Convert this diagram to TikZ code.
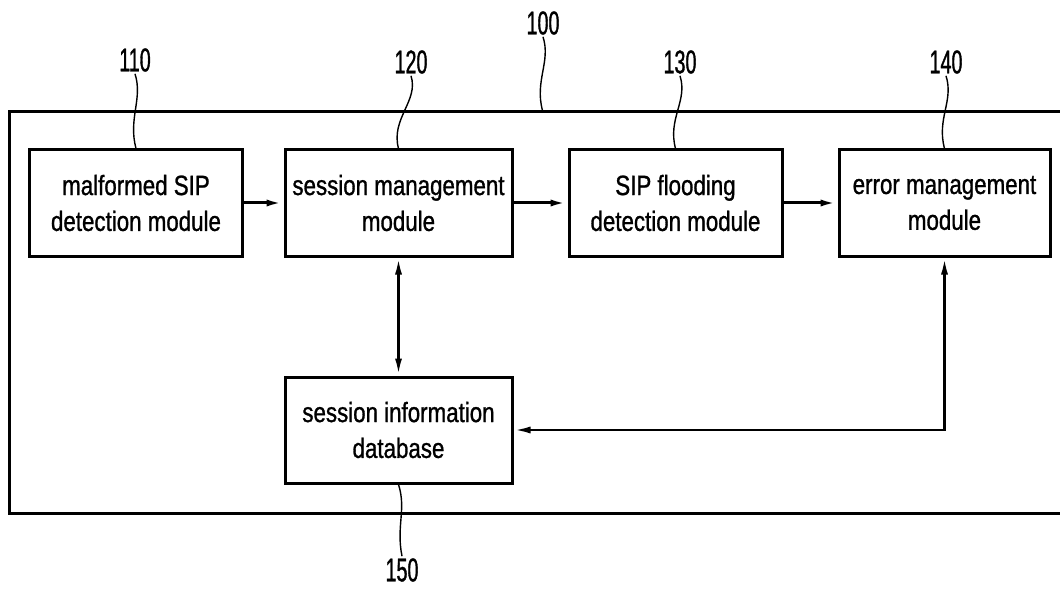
\documentclass[tikz,border=0pt]{standalone}
\usepackage{fontspec}
\setmainfont{Liberation Sans}[FakeStretch=0.8,FakeBold=1]
\newfontfamily\numfont{Liberation Sans}[FakeStretch=0.6,FakeBold=1]
\usetikzlibrary{arrows.meta,positioning}

\begin{document}
\begin{tikzpicture}[x=1bp,y=-1bp,
  module/.style={rectangle, draw, line width=3bp, align=center, inner sep=0pt,
    minimum height=106bp, font=\fontsize{28}{36}\selectfont},
  refnum/.style={inner sep=2pt, font=\numfont\fontsize{33}{33}\selectfont},
  leader/.style={line width=1.4bp},
  flow/.style={line width=3bp, -{Latex[length=17bp,width=7bp]}},
  link/.style={line width=2.6bp, {Latex[length=17bp,width=7bp]}-{Latex[length=17bp,width=7bp]}}
]
\clip (0,0) rectangle (1060,589);
% outer frame (100), right side runs off the sheet
\node (sys) [draw, line width=3bp, minimum width=1065bp, minimum height=401bp, inner sep=0pt] at (542.5,312.5) {};
% modules
\node (malf)  [module, minimum width=212bp] at (136,203)   {malformed SIP\\detection module};
\node (sessm) [module, minimum width=227bp] at (398.5,203) {session management\\module};
\node (flood) [module, minimum width=213bp] at (675.5,203) {SIP flooding\\detection module};
\node (err)   [module, minimum width=211bp] at (944.5,203) {error management\\module};
\node (sessdb)[module, minimum width=227bp] at (398.5,430) {session information\\database};
% reference numerals
\node (l100) [refnum] at (543,23)  {100};
\node (l110) [refnum] at (135,60)  {110};
\node (l120) [refnum] at (411,62)  {120};
\node (l130) [refnum] at (680,62)  {130};
\node (l140) [refnum] at (946,62)  {140};
\node (l150) [refnum] at (402,570) {150};
% leader lines
\draw[leader] (l100.south) .. controls +(8,25) and +(-8,-30) .. (sys.north);
\draw[leader] (l110.south) .. controls +(8,25) and +(-8,-30) .. (malf.north);
\draw[leader] (l120.south) .. controls +(8,25) and +(-8,-30) .. (sessm.north);
\draw[leader] (l130.south) .. controls +(8,25) and +(-8,-30) .. (flood.north);
\draw[leader] (l140.south) .. controls +(8,25) and +(-8,-30) .. (err.north);
\draw[leader] (sessdb.south) .. controls +(8,25) and +(-6,-30) .. (l150.north);
% data flow
\draw[flow] (malf) -- (sessm);
\draw[flow] (sessm) -- (flood);
\draw[flow] (flood) -- (err);
\draw[link] (sessm) -- (sessdb);
\draw[link] (err.south) |- (sessdb.east);
\end{tikzpicture}
\end{document}
